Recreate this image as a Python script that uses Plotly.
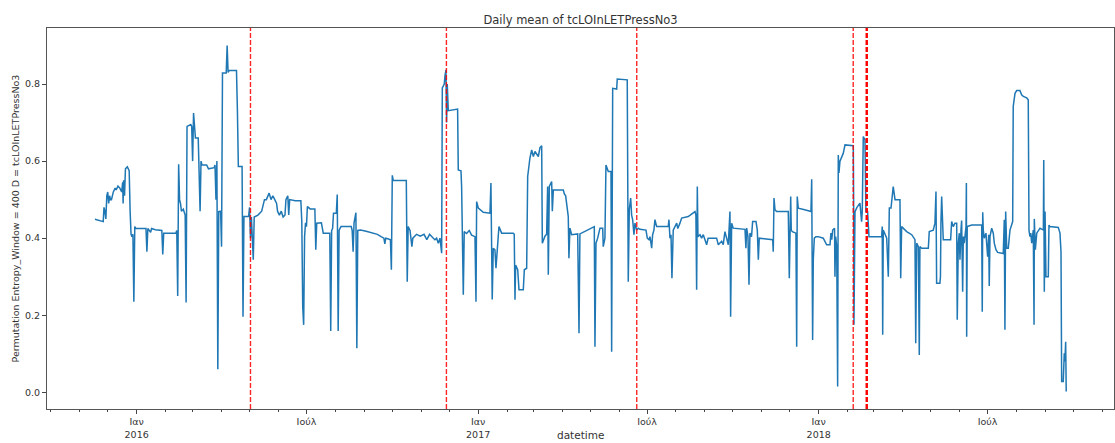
import pandas as pd
import plotly.graph_objects as go

# ---------------- data ----------------
BASE_DATE = "2016-01-01"   # day offsets below are counted from this date

day_offset = [
    -44.7, -40, -35.8, -35, -34, -33, -32, -31, -30, -29, -28, -27, -25, -23, -22, -20, -18, -16, -15, -14.5,
    -14, -13, -12, -10, -9, -8, -7, -6, -5, -4, -3, -2, -1, 5, 10, 11, 12, 15, 16, 20,
    27, 28, 29, 42, 43, 44, 45, 46, 47, 48, 50, 52, 53, 54, 58, 59, 60, 61, 62, 63,
    66, 67, 68, 69, 70, 75, 77, 83, 84, 85, 86, 87, 88, 90, 91, 92, 96, 97, 98, 99,
    107, 108, 109, 113, 114, 115, 120, 121, 122, 123, 125, 126, 130, 134,
    137, 139, 140, 142, 144, 146, 148, 150, 151, 153, 155, 157, 159, 160, 162, 163, 164, 170, 176, 177,
    178, 179, 180, 181, 182, 183, 186, 191, 192, 193, 198, 199, 200, 207, 208, 209, 210, 211, 214, 215,
    216, 217, 219, 230, 231, 232, 233, 235, 236, 237, 240, 246, 252, 258, 262, 265, 266, 267, 270, 272,
    273, 274, 275, 289, 290, 291, 293, 295, 296, 300, 304, 308, 311, 314, 318,
    319.7, 321.5, 323.3, 325.1, 326.9, 327.6, 329.7, 330.4, 331.5, 332.2, 332.9, 334, 344, 344.7, 347.6,
    348.3, 349, 350.1, 351.1, 353.6, 356.5, 359, 362.6, 363.7, 364.4, 366.2, 371.5, 378.7, 379.7, 381.1,
    382.2, 384, 385.1, 386.8, 388.3, 391.2, 403.6, 404.7, 405.5, 406.2, 408.4, 409.8, 414.4, 415.5, 418,
    419.1, 421.5, 423.4, 425.2, 426.9, 430.5, 432.3, 434.1, 434.8, 437.6, 439.4, 440.5, 441.2, 442.3, 444.8,
    445.5, 446.6, 457.3, 458.4, 459.8, 462.6, 463.3, 464.4, 466.2, 472.7, 474.1, 475.1, 490.5, 491.2, 492.3,
    494.1, 496.6, 499.5, 500.1, 501.9, 503, 505.5, 508.4, 509.1, 510.2,
    514.5, 515.1, 525.8, 526.2, 526.9, 528, 529.5, 530.5, 531.6, 533, 534.1, 535.9, 537.6, 539.4, 545.9,
    547.3, 549.1, 550.2, 552, 553, 554.4, 555.5, 557.3, 569.8, 570.5, 571.6, 572.7, 573.7, 575.1, 578.8,
    580, 582.3, 584.1, 591.2, 598.4, 599.4, 600.2, 600.9, 601.6, 603.8, 605.5, 607.3, 609, 610.9, 612.5,
    614.5, 621.6, 623.4, 627, 628.7, 630.5, 632.3, 634.1, 635.9, 636.6, 637.7, 639.4, 652, 653, 653.8,
    655.2, 656.3, 657.3, 659, 660.2, 663.8, 665.2, 666.3, 667.3, 681.7, 682.3, 683.1, 684.1, 685.9, 698.4,
    699.5,
    700.2, 701, 701.6, 702.7, 706.6, 707.4, 708, 709.1, 716, 722.7, 723.5, 724.1, 724.5, 725.2, 726.3,
    728, 730.5, 735.9, 737.5, 739.5, 743.1, 744.1, 745, 746, 748, 748.4, 749.2, 750.3, 751.3, 752,
    752.7, 753.8, 757.3, 759.2, 768.1, 768.5, 768.8, 769.9, 772, 775.2, 777, 777.7, 778.8, 780.6, 781.6,
    783.4, 784.9, 798.5, 799.1, 799.6, 800.2, 803.9, 805.6, 806.7, 808.5, 810.9, 812.8, 818.1, 818.9, 819.9,
    825.3, 830.7, 834.2, 835, 836, 837.8, 838.8, 839.5, 841.4, 848.5, 849.5, 853.8, 855.6, 856.7, 857.4,
    860.9, 861.5, 862, 862.8, 864.5, 868.2, 872.4, 873.5, 875.2,
    877.1, 878.9, 879.5, 880.6, 881.7, 882.4, 883.5, 884.2, 885.3, 886, 887, 888.9, 889.3, 889.6, 890.2,
    895, 905.7, 906.3, 906.8, 907.4, 908.5, 910.3, 911, 912.1, 913.2, 913.8, 914.6, 916.4, 918.1, 919.2,
    921, 922.8, 928.8, 929.9, 930.6, 931.4, 932.5, 934.2, 936, 937.8, 938.9, 939.5, 941.4, 943.2, 946.7,
    948.5, 950.3, 953.9, 955.6, 956.4, 957.4, 958.3, 959.3, 961, 961.8, 962.1, 963.2, 964.7, 968.2, 971.8,
    972.2, 972.8, 973.6, 974.6, 977.1, 977.8, 978.9, 987.8, 989.6, 990.7, 991.4, 993.1, 994.2, 994.9, 995.7,
    996.3,
]

entropy = [
    0.449, 0.446, 0.443, 0.48, 0.47, 0.45, 0.51, 0.52, 0.49, 0.51, 0.50, 0.50, 0.52, 0.53, 0.525, 0.535, 0.53, 0.52, 0.545, 0.49,
    0.55, 0.51, 0.58, 0.585, 0.58, 0.575, 0.47, 0.41, 0.404, 0.41, 0.235, 0.43, 0.426, 0.426, 0.425, 0.365, 0.425, 0.415, 0.425, 0.422,
    0.42, 0.358, 0.413, 0.413, 0.42, 0.25, 0.592, 0.5, 0.49, 0.47, 0.475, 0.46, 0.233, 0.69, 0.695, 0.69, 0.6, 0.725, 0.68, 0.66,
    0.66, 0.55, 0.47, 0.6, 0.59, 0.59, 0.58, 0.583, 0.59, 0.5, 0.6, 0.06, 0.469, 0.47, 0.378, 0.829, 0.829, 0.9, 0.83, 0.835,
    0.835, 0.73, 0.586, 0.586, 0.196, 0.456, 0.456, 0.48, 0.40, 0.455, 0.344, 0.455, 0.46, 0.47,
    0.5, 0.50, 0.505, 0.517, 0.50, 0.51, 0.50, 0.49, 0.47, 0.46, 0.47, 0.455, 0.46, 0.50, 0.51, 0.46, 0.50, 0.497, 0.497, 0.443,
    0.222, 0.175, 0.404, 0.44, 0.43, 0.482, 0.476, 0.476, 0.37, 0.439, 0.44, 0.42, 0.413, 0.413, 0.159, 0.42, 0.425, 0.465, 0.465, 0.513,
    0.159, 0.421, 0.43, 0.43, 0.42, 0.365, 0.44, 0.466, 0.114, 0.42, 0.421, 0.418, 0.413, 0.41, 0.404, 0.40, 0.385, 0.40, 0.398, 0.396,
    0.318, 0.563, 0.55, 0.55, 0.287, 0.43, 0.42, 0.378, 0.40, 0.41, 0.405, 0.41, 0.396, 0.41, 0.40,
    0.396, 0.40, 0.387, 0.40, 0.361, 0.79, 0.80, 0.82, 0.837, 0.70, 0.80, 0.731, 0.735, 0.577, 0.575,
    0.534, 0.344, 0.253, 0.417, 0.412, 0.420, 0.408, 0.404, 0.235, 0.495, 0.478, 0.467, 0.465, 0.543, 0.241,
    0.374, 0.37, 0.322, 0.38, 0.43, 0.413, 0.413, 0.41, 0.24, 0.33, 0.318, 0.266, 0.266, 0.318, 0.322,
    0.56, 0.608, 0.629, 0.612, 0.625, 0.612, 0.635, 0.640, 0.387, 0.405, 0.41, 0.534, 0.305, 0.534, 0.547,
    0.47, 0.525, 0.525, 0.515, 0.51, 0.456, 0.348, 0.426, 0.409, 0.411, 0.153, 0.411, 0.43, 0.118, 0.387,
    0.40, 0.426, 0.426, 0.378, 0.40, 0.59, 0.573, 0.573, 0.105, 0.789,
    0.787, 0.813, 0.811, 0.478, 0.287, 0.474, 0.504, 0.46, 0.448, 0.409, 0.439, 0.421, 0.426, 0.423, 0.421,
    0.40, 0.396, 0.404, 0.374, 0.409, 0.421, 0.448, 0.43, 0.43, 0.448, 0.40, 0.409, 0.296, 0.421, 0.439,
    0.425, 0.439, 0.452, 0.456, 0.469, 0.46, 0.266, 0.534, 0.404, 0.409, 0.40, 0.409, 0.396, 0.383, 0.40,
    0.40, 0.40, 0.383, 0.392, 0.383, 0.417, 0.40, 0.383, 0.469, 0.196, 0.439, 0.426, 0.423, 0.374, 0.426,
    0.404, 0.279, 0.413, 0.404, 0.443, 0.443, 0.421, 0.344, 0.40, 0.396, 0.365, 0.504, 0.474, 0.469, 0.469,
    0.296,
    0.421, 0.508, 0.421, 0.417, 0.413, 0.118, 0.508, 0.478, 0.474, 0.469, 0.553, 0.378, 0.136, 0.344, 0.40,
    0.404, 0.404, 0.40, 0.392, 0.383, 0.383, 0.413, 0.396, 0.421, 0.426, 0.30, 0.404, 0.378, 0.015, 0.616,
    0.569, 0.60, 0.62, 0.642, 0.640, 0.469, 0.175, 0.469, 0.48, 0.491, 0.443, 0.469, 0.664, 0.655, 0.469,
    0.469, 0.404, 0.404, 0.43, 0.149, 0.421, 0.40, 0.30, 0.478, 0.478, 0.534, 0.50, 0.50, 0.296, 0.43,
    0.417, 0.409, 0.396, 0.127, 0.387, 0.378, 0.097, 0.378, 0.374, 0.374, 0.417, 0.421, 0.439, 0.521, 0.283,
    0.283, 0.30, 0.439, 0.508, 0.396, 0.396, 0.396, 0.443, 0.43,
    0.439, 0.439, 0.188, 0.387, 0.413, 0.344, 0.421, 0.446, 0.261, 0.404, 0.387, 0.43, 0.543, 0.144, 0.43,
    0.434, 0.434, 0.209, 0.467, 0.421, 0.40, 0.413, 0.387, 0.352, 0.409, 0.276, 0.404, 0.426, 0.413, 0.387,
    0.37, 0.363, 0.36, 0.448, 0.162, 0.469, 0.374, 0.374, 0.421, 0.439, 0.443, 0.742, 0.776, 0.783, 0.783,
    0.772, 0.768, 0.764, 0.759, 0.42, 0.404, 0.413, 0.387, 0.421, 0.175, 0.45, 0.37, 0.413, 0.426, 0.421,
    0.603, 0.261, 0.469, 0.30, 0.30, 0.434, 0.43, 0.428, 0.413, 0.365, 0.028, 0.028, 0.101, 0.08, 0.131,
    0.002,
]

# dates of the red dashed marker lines
event_dates = ["2016-05-02", "2016-11-28", "2017-06-20", "2018-02-07"]
event_dates_bold = ["2018-02-21", "2018-02-22"]

x_tick_dates = ["2016-01-01", "2016-07-01", "2017-01-01", "2017-07-01", "2018-01-01", "2018-07-01"]
x_tick_labels = ["Ιαν<br>2016", "Ιούλ", "Ιαν<br>2017", "Ιούλ", "Ιαν<br>2018", "Ιούλ"]
y_tick_values = [0.0, 0.2, 0.4, 0.6, 0.8]
y_tick_labels = ["0.0", "0.2", "0.4", "0.6", "0.8"]

# ---------------- figure ----------------
dates = pd.Timestamp(BASE_DATE) + pd.to_timedelta(day_offset, unit="D")

FONT = "DejaVu Sans"
fig = go.Figure()
fig.add_trace(go.Scatter(
    x=dates, y=entropy, mode="lines",
    line=dict(color="#1f77b4", width=1.5),
    showlegend=False, hoverinfo="skip",
))

for d in event_dates:
    fig.add_shape(type="line", xref="x", yref="paper", x0=d, x1=d, y0=0, y1=1,
                  line=dict(color="red", width=1.4, dash="5px,2px"), opacity=0.85)
for d in event_dates_bold:
    fig.add_shape(type="line", xref="x", yref="paper", x0=d, x1=d, y0=0, y1=1,
                  line=dict(color="red", width=1.5, dash="5px,2px"))

axis_common = dict(
    showgrid=False, zeroline=False, showline=True, mirror=True,
    linecolor="#555", linewidth=1, ticks="outside", ticklen=4, tickwidth=1,
    tickcolor="#444", tickfont=dict(family=FONT, size=9.5, color="#333"),
)

fig.update_layout(
    width=1115, height=443, autosize=False,
    margin=dict(l=47, r=1, t=28, b=34),
    paper_bgcolor="white", plot_bgcolor="white",
    font=dict(family=FONT, size=10, color="#333"),
    title=dict(text="Daily mean of tcLOInLETPressNo3", x=0.5, xref="paper",
               y=1 - 20 / 443, yref="container", yanchor="middle", xanchor="center",
               font=dict(family=FONT, size=11.5, color="#333")),
    xaxis=dict(
        type="date", range=["2015-09-26 22:00", "2018-11-13 12:00"],
        tickmode="array", tickvals=x_tick_dates, ticktext=x_tick_labels,
        minor=dict(ticks="outside", ticklen=2, tickwidth=1, tickcolor="#444",
                   dtick="M1", tick0="2015-01-01", showgrid=False),
        **axis_common,
    ),
    yaxis=dict(
        range=[-0.0434, 0.9455],
        tickmode="array", tickvals=y_tick_values, ticktext=y_tick_labels,
        **axis_common,
    ),
    annotations=[
        dict(text="Permutation Entropy_Window = 400 D = tcLOInLETPressNo3",
             xref="paper", yref="paper", x=(15 - 47) / 1067, y=0.5,
             xanchor="center", yanchor="middle", textangle=-90, showarrow=False,
             font=dict(family=FONT, size=9.5, color="#333")),
        dict(text="datetime", xref="paper", yref="paper", x=0.5, y=-(434.5 - 409) / 381,
             xanchor="center", yanchor="middle", showarrow=False,
             font=dict(family=FONT, size=10.5, color="#333")),
    ],
)

fig.write_html("out.html")
